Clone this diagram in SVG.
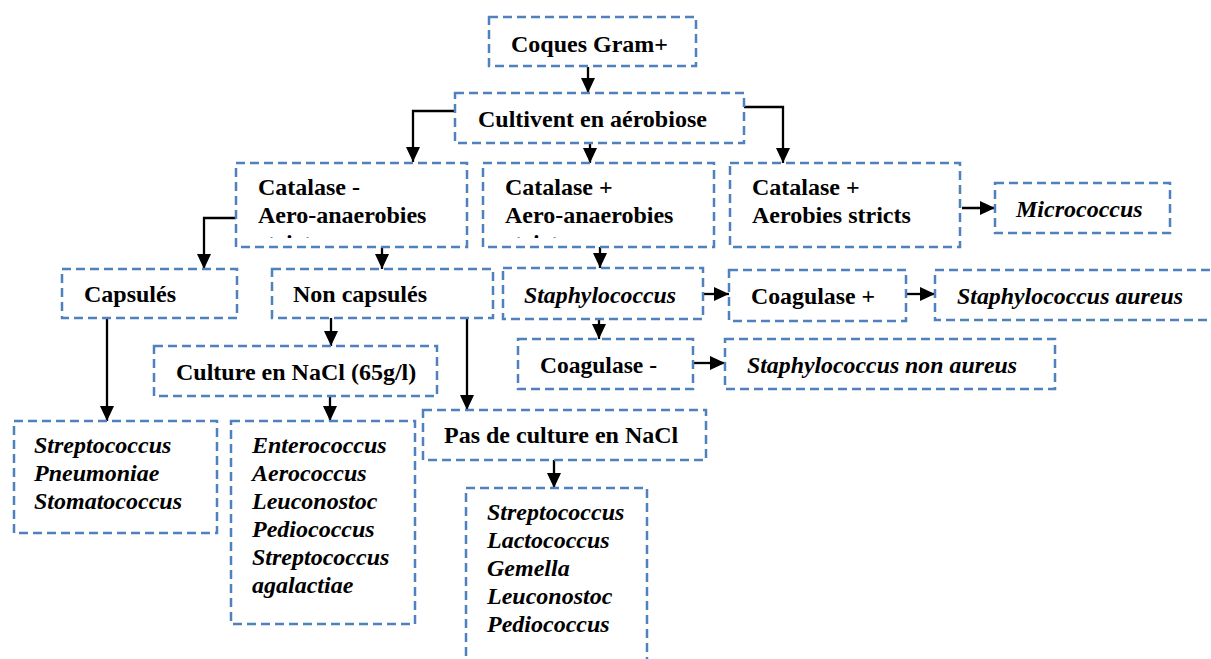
<svg xmlns="http://www.w3.org/2000/svg" width="1211" height="659" viewBox="0 0 1211 659">
<style>
.box{fill:none;stroke:#4f81bd;stroke-width:2.5;stroke-dasharray:9 5}
.t{font-family:"Liberation Serif","Times New Roman",serif;font-size:24px;font-weight:bold;fill:#000}
.i{font-style:italic}
.c{fill:none;stroke:#000;stroke-width:2.3}
</style>
<defs>
<marker id="ah" markerUnits="userSpaceOnUse" markerWidth="16" markerHeight="16" viewBox="0 0 16 16" refX="15" refY="8" orient="auto">
<path d="M0,1 L15,8 L0,15 Z" fill="#000"/>
</marker>
<clipPath id="clipA"><rect x="236" y="163" width="231" height="75"/></clipPath>
<clipPath id="clipB"><rect x="483" y="163" width="231" height="75"/></clipPath>
</defs>
<rect width="1211" height="659" fill="#fff"/>
<g id="connectors">
<path class="c" d="M588,67 V93" marker-end="url(#ah)"/>
<path class="c" d="M455,111 H413 V162" marker-end="url(#ah)"/>
<path class="c" d="M590,143 V163" marker-end="url(#ah)"/>
<path class="c" d="M744,107 H783 V163" marker-end="url(#ah)"/>
<path class="c" d="M236,218 H204 V269" marker-end="url(#ah)"/>
<path class="c" d="M382,247 V269" marker-end="url(#ah)"/>
<path class="c" d="M600,247 V268" marker-end="url(#ah)"/>
<path class="c" d="M962,208 H995" marker-end="url(#ah)"/>
<path class="c" d="M107,318 V421" marker-end="url(#ah)"/>
<path class="c" d="M331,318 V346" marker-end="url(#ah)"/>
<path class="c" d="M467,318 V410" marker-end="url(#ah)"/>
<path class="c" d="M330,396 V421" marker-end="url(#ah)"/>
<path class="c" d="M554,460 V488" marker-end="url(#ah)"/>
<path class="c" d="M703,294 H729" marker-end="url(#ah)"/>
<path class="c" d="M906,294 H935" marker-end="url(#ah)"/>
<path class="c" d="M599,319 V339" marker-end="url(#ah)"/>
<path class="c" d="M693,363 H725" marker-end="url(#ah)"/>
</g>
<g id="n-coques"><rect class="box" x="489" y="17" width="207" height="49"/><text class="t" x="511" y="52">Coques Gram+</text></g>
<g id="n-cultivent"><rect class="box" x="455" y="93" width="289" height="50"/><text class="t" x="478" y="127">Cultivent en aérobiose</text></g>
<g id="n-catneg"><rect class="box" x="236" y="163" width="231" height="84"/><text class="t" x="258" y="195">Catalase -</text><text class="t" x="258" y="223">Aero-anaerobies</text><text class="t" x="258" y="251" clip-path="url(#clipA)">stricts</text></g>
<g id="n-catpos-aa"><rect class="box" x="483" y="163" width="231" height="84"/><text class="t" x="505" y="195">Catalase +</text><text class="t" x="505" y="223">Aero-anaerobies</text><text class="t" x="505" y="251" clip-path="url(#clipB)">stricts</text></g>
<g id="n-catpos-as"><rect class="box" x="730" y="163" width="230" height="84"/><text class="t" x="752" y="195">Catalase +</text><text class="t" x="752" y="223">Aerobies stricts</text></g>
<g id="n-micro"><rect class="box" x="995" y="183" width="175" height="50"/><text class="t i" x="1016" y="217">Micrococcus</text></g>
<g id="n-caps"><rect class="box" x="62" y="269" width="175" height="49"/><text class="t" x="84" y="302">Capsulés</text></g>
<g id="n-noncaps"><rect class="box" x="272" y="269" width="221" height="49"/><text class="t" x="293" y="302">Non capsulés</text></g>
<g id="n-staph"><rect class="box" x="503" y="268" width="200" height="51"/><text class="t i" x="524" y="303" textLength="152" lengthAdjust="spacingAndGlyphs">Staphylococcus</text></g>
<g id="n-coagpos"><rect class="box" x="729" y="270" width="177" height="51"/><text class="t" x="751" y="304" textLength="124" lengthAdjust="spacingAndGlyphs">Coagulase +</text></g>
<g id="n-aureus"><rect class="box" x="935" y="270" width="300" height="50"/><text class="t i" x="957" y="304" textLength="226" lengthAdjust="spacingAndGlyphs">Staphylococcus aureus</text></g>
<g id="n-coagneg"><rect class="box" x="518" y="339" width="175" height="50"/><text class="t" x="540" y="373" textLength="117" lengthAdjust="spacingAndGlyphs">Coagulase -</text></g>
<g id="n-nonaureus"><rect class="box" x="725" y="339" width="330" height="50"/><text class="t i" x="747" y="373" textLength="270" lengthAdjust="spacingAndGlyphs">Staphylococcus non aureus</text></g>
<g id="n-culture"><rect class="box" x="154" y="346" width="283" height="50"/><text class="t" x="176" y="380">Culture en NaCl (65g/l)</text></g>
<g id="n-pas"><rect class="box" x="423" y="410" width="283" height="50"/><text class="t" x="444" y="443">Pas de culture en NaCl</text></g>
<g id="n-strep1"><rect class="box" x="14" y="421" width="203" height="112"/><text class="t i" x="34" y="453">Streptococcus</text><text class="t i" x="34" y="481">Pneumoniae</text><text class="t i" x="34" y="509">Stomatococcus</text></g>
<g id="n-entero"><rect class="box" x="231" y="421" width="184" height="203"/><text class="t i" x="252" y="453">Enterococcus</text><text class="t i" x="252" y="481">Aerococcus</text><text class="t i" x="252" y="509">Leuconostoc</text><text class="t i" x="252" y="537">Pediococcus</text><text class="t i" x="252" y="565">Streptococcus</text><text class="t i" x="252" y="593">agalactiae</text></g>
<g id="n-strep2"><rect class="box" x="466" y="488" width="181" height="190"/><text class="t i" x="487" y="520">Streptococcus</text><text class="t i" x="487" y="548">Lactococcus</text><text class="t i" x="487" y="576">Gemella</text><text class="t i" x="487" y="604">Leuconostoc</text><text class="t i" x="487" y="632">Pediococcus</text></g>
</svg>
